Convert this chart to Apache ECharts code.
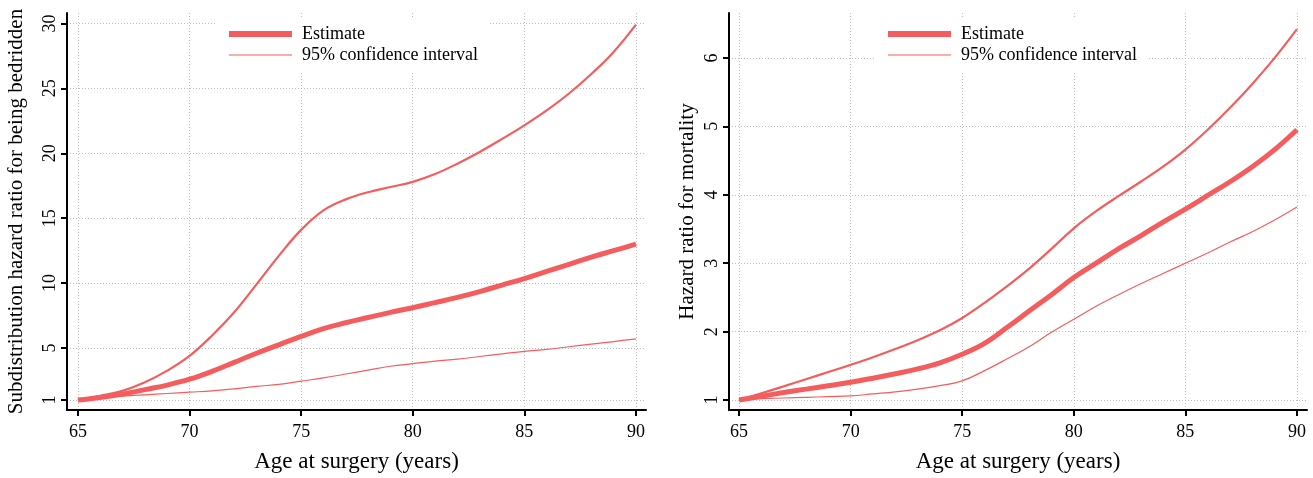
<!DOCTYPE html>
<html>
<head>
<meta charset="utf-8">
<script src="https://cdn.jsdelivr.net/npm/echarts@6/dist/echarts.min.js"></script>
<style>
  html, body { margin: 0; padding: 0; background: #fff; }
  #chart { width: 1313px; height: 478px; }
</style>
</head>
<body>
<div id="chart"></div>
<script>
// age at surgery (years)
var ages = [65, 66, 67, 68, 69, 70, 71, 72, 73, 74, 75, 76, 77, 78, 79, 80, 81, 82, 83, 84, 85, 86, 87, 88, 89, 90];

// left panel: subdistribution hazard ratio for being bedridden
var bedEst   = [1.0, 1.2, 1.45, 1.8, 2.15, 2.6, 3.2, 3.9, 4.6, 5.25, 5.9, 6.5, 6.95, 7.35, 7.75, 8.1, 8.5, 8.9, 9.35, 9.85, 10.35, 10.9, 11.45, 12.0, 12.5, 13.0];
var bedUpper = [1.0, 1.33, 1.7, 2.36, 3.26, 4.4, 5.95, 7.75, 9.9, 12.1, 14.1, 15.6, 16.45, 17.0, 17.4, 17.8, 18.4, 19.2, 20.1, 21.1, 22.15, 23.3, 24.6, 26.1, 27.8, 29.9];
var bedLower = [1.0, 1.2, 1.3, 1.4, 1.5, 1.6, 1.7, 1.85, 2.05, 2.2, 2.45, 2.7, 3.0, 3.3, 3.6, 3.8, 4.0, 4.15, 4.35, 4.55, 4.75, 4.9, 5.1, 5.3, 5.5, 5.7];

// right panel: hazard ratio for mortality
var mortEst   = [1.0, 1.055, 1.11, 1.16, 1.21, 1.26, 1.32, 1.385, 1.455, 1.545, 1.67, 1.83, 2.06, 2.3, 2.54, 2.79, 3.0, 3.21, 3.4, 3.6, 3.79, 3.99, 4.19, 4.41, 4.66, 4.95];
var mortUpper = [1.0, 1.1, 1.2, 1.305, 1.41, 1.515, 1.625, 1.745, 1.875, 2.02, 2.2, 2.42, 2.66, 2.92, 3.21, 3.51, 3.76, 3.98, 4.19, 4.41, 4.66, 4.95, 5.27, 5.62, 6.0, 6.42];
var mortLower = [1.0, 1.02, 1.03, 1.04, 1.05, 1.06, 1.09, 1.12, 1.16, 1.21, 1.28, 1.43, 1.6, 1.78, 1.99, 2.18, 2.37, 2.54, 2.7, 2.85, 3.0, 3.15, 3.31, 3.46, 3.63, 3.82];

// tick labels
var xTicks = [65, 70, 75, 80, 85, 90];
var bedTicks = [1, 5, 10, 15, 20, 25, 30];
var mortTicks = [1, 2, 3, 4, 5, 6];

var names = ['Estimate', '95% confidence interval'];
var RED = '#f45d5d';
var FONT = 'Liberation Serif';

function pairs(ys) {
  return ages.map(function (a, i) { return [a, ys[i]]; });
}

function xAxisCfg(idx, min, max) {
  return {
    type: 'value', gridIndex: idx, min: min, max: max,
    name: 'Age at surgery (years)', nameLocation: 'middle', nameGap: 40,
    nameTextStyle: { fontFamily: FONT, fontSize: 23, color: '#000' },
    axisLine: { lineStyle: { color: '#000', width: 2 } },
    axisTick: { length: 6, lineStyle: { color: '#000', width: 2 }, customValues: xTicks },
    axisLabel: { fontFamily: FONT, fontSize: 18, color: '#000', margin: 13, customValues: xTicks },
    splitLine: { show: true, lineStyle: { color: '#bdbdbd', width: 1, type: [1, 2] } }
  };
}

function yAxisCfg(idx, min, max, ticks, title, gap) {
  return {
    type: 'value', gridIndex: idx, min: min, max: max,
    name: title, nameLocation: 'middle', nameGap: gap,
    nameTextStyle: { fontFamily: FONT, fontSize: 21, color: '#000' },
    axisLine: { show: true, lineStyle: { color: '#000', width: 2 } },
    axisTick: { show: true, length: 6, lineStyle: { color: '#000', width: 2 }, customValues: ticks },
    axisLabel: { fontFamily: FONT, fontSize: 18, color: '#000', rotate: 90, margin: 8, customValues: ticks },
    splitLine: { show: true, lineStyle: { color: '#bdbdbd', width: 1, type: [1, 2] } }
  };
}

function lineSeries(name, idx, ys, width) {
  return {
    name: name, type: 'line', xAxisIndex: idx, yAxisIndex: idx,
    data: pairs(ys), symbol: 'none', showSymbol: false, smooth: 0.4,
    lineStyle: { color: RED, width: width }, itemStyle: { color: RED },
    silent: true
  };
}

// legend keys: flat bars, thick for the estimate and thin for the CI
function legendCfg(left) {
  return {
    orient: 'vertical', left: left, top: 18,
    padding: [7, 12, 7, 12], backgroundColor: '#fff',
    itemWidth: 63, itemHeight: 20, itemGap: 3, symbolKeepAspect: true,
    textStyle: { fontFamily: FONT, fontSize: 18, color: '#000', padding: [0, 0, 0, 5] },
    data: [
      { name: names[0], icon: 'path://M0,0H63V6H0Z', itemStyle: { color: RED } },
      { name: names[1], icon: 'path://M0,0H63V1.2H0Z', itemStyle: { color: RED } }
    ]
  };
}

var chart = echarts.init(document.getElementById('chart'));
chart.setOption({
  animation: false,
  backgroundColor: '#fff',
  legend: [legendCfg(217), legendCfg(876)],
  grid: [
    { left: 67, right: 667, top: 13, bottom: 67 },
    { left: 729, right: 6, top: 13, bottom: 67 }
  ],
  xAxis: [xAxisCfg(0, 64.51, 90.45), xAxisCfg(1, 64.55, 90.45)],
  yAxis: [
    yAxisCfg(0, 0.23, 30.8, bedTicks, 'Subdistribution hazard ratio for being bedridden', 40),
    yAxisCfg(1, 0.855, 6.656, mortTicks, 'Hazard ratio for mortality', 31)
  ],
  series: [
    lineSeries(names[1], 0, bedUpper, 2.2),
    lineSeries(names[1], 0, bedLower, 1.2),
    lineSeries(names[0], 0, bedEst, 5),
    lineSeries(names[1], 1, mortUpper, 2.2),
    lineSeries(names[1], 1, mortLower, 1.2),
    lineSeries(names[0], 1, mortEst, 5)
  ]
});
</script>
</body>
</html>
